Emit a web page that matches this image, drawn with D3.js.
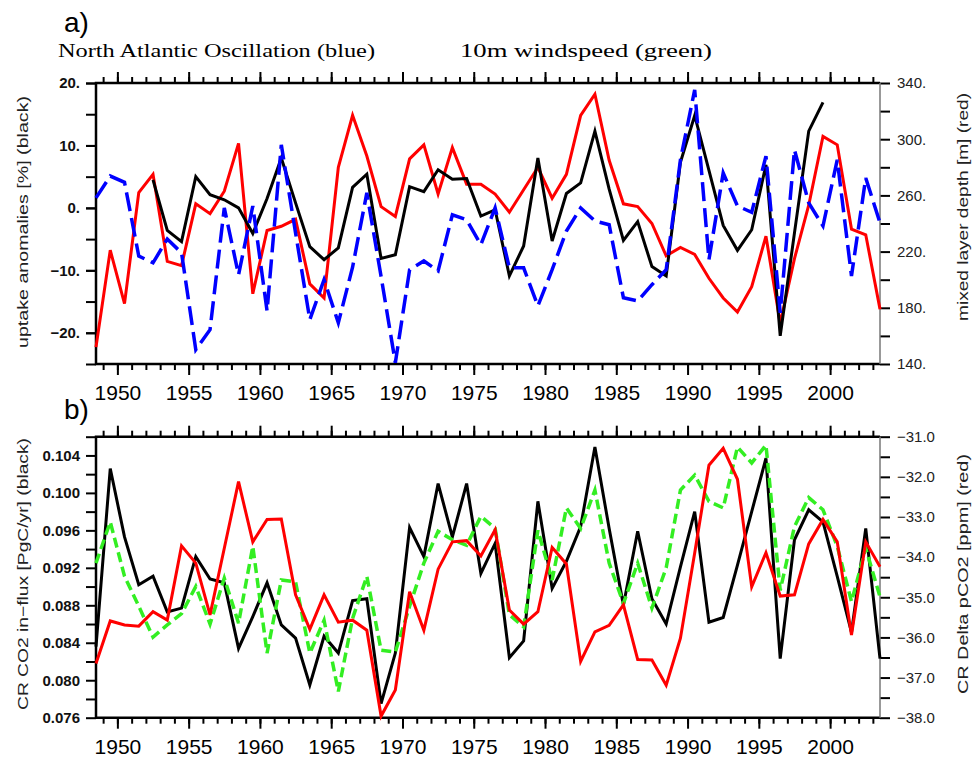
<!DOCTYPE html>
<html>
<head>
<meta charset="utf-8">
<script src="https://cdn.jsdelivr.net/npm/d3@7"></script>
<style>
body { margin: 0; background: #fff; }
svg text { font-family: "Liberation Sans", Arial, sans-serif; }
.tick line { stroke: #000; stroke-width: 2; }
</style>
</head>
<body>
<svg id="chart" width="976" height="758"></svg>
<script>
//---------------- data ----------------------
var years = d3.range(1948.5, 2004, 1);   // 56 mid-year positions

// panel a
var uptake = [null, null, null, null, 4.5, -3.6, -5.4, 5.0, 2.1, 1.3,
	0.0, -4.1, 1.5, 8.0, 0.8, -6.2, -8.3, -6.4, 3.3, 5.4,
	-8.1, -7.5, 3.4, 2.6, 6.1, 4.6, 4.7, -1.3, -0.3, -10.9,
	-6.1, 8.0, -5.3, 2.3, 4.0, 12.3, 3.0, -5.2, -2.2, -9.4,
	-10.9, 7.3, 14.8, 6.0, -2.8, -6.8, -3.5, 6.9, -20.5, -4.0,
	12.3, 16.9, null, null, null, null];
var mld = [152, 221, 183, 262, 275, 213, 210, 254, 247, 263,
	297, 190, 235, 238, 243, 197, 187, 280, 317, 288,
	252, 245, 286, 296, 261, 294, 268, 268, 261, 248,
	264, 280, 258, 275, 317, 332, 285, 254, 252, 240,
	217, 223, 218, 201, 187, 177, 195, 231, 169, 215,
	253, 302, 296, 236, 232, 179];
var nao = [1.6, 5.1, 4.1, -7.7, -8.8, -5.0, -7.2, -22.7, -19.5, 0.0,
	-10.7, 0.3, -16.5, 10.1, -4.0, -17.9, -11.5, -18.4, -9.5, 2.4,
	-11.0, -24.8, -9.9, -8.5, -10.1, -1.1, -1.9, -5.9, 0.0, -9.6,
	-9.6, -15.7, -9.9, -3.7, 0.0, -2.1, -2.7, -14.4, -14.9, -12.3,
	-9.9, 7.7, 18.9, -8.3, 5.6, 0.3, -0.7, 8.3, -16.8, 9.3,
	0.8, -2.9, 7.7, -10.9, 4.8, -2.4];

// panel b
var influx = [0.0836, 0.1026, 0.0953, 0.0902, 0.0911, 0.0873, 0.0877, 0.0932, 0.0908, 0.0904,
	0.0834, 0.0868, 0.0904, 0.0859, 0.0845, 0.0795, 0.0847, 0.0829, 0.0885, 0.0887,
	0.0775, 0.0829, 0.0963, 0.0932, 0.1010, 0.0953, 0.1010, 0.0914, 0.0946, 0.0824,
	0.0842, 0.0991, 0.0898, 0.0927, 0.0964, 0.1049, 0.0962, 0.0880, 0.0959, 0.0887,
	0.0860, 0.0921, 0.0980, 0.0862, 0.0867, 0.0923, 0.0980, 0.1037, 0.0823, 0.0950,
	0.0982, 0.0969, 0.0911, 0.0851, 0.0962, 0.0823];
var dpco2 = [-36.65, -35.59, -35.69, -35.72, -35.36, -35.57, -33.72, -34.15, -35.44, -33.78,
	-32.12, -33.62, -33.06, -33.05, -34.94, -35.80, -34.94, -35.62, -35.57, -35.82,
	-37.96, -37.31, -34.86, -35.82, -34.30, -33.62, -33.59, -33.97, -33.32, -35.32,
	-35.67, -35.36, -33.76, -34.17, -36.60, -35.86, -35.70, -35.19, -36.55, -36.56,
	-37.19, -36.02, -33.90, -31.71, -31.29, -32.06, -34.74, -33.89, -34.97, -34.94,
	-33.67, -33.06, -33.62, -35.94, -33.62, -34.24];
var wind = [0.0925, 0.0969, 0.0911, 0.0879, 0.0846, 0.0859, 0.0871, 0.0900, 0.0860, 0.0909,
	0.0861, 0.0943, 0.0829, 0.0907, 0.0905, 0.0829, 0.0864, 0.0788, 0.0866, 0.0911,
	0.0832, 0.0830, 0.0879, 0.0925, 0.0959, 0.0950, 0.0944, 0.0975, 0.0962, 0.0870,
	0.0857, 0.0960, 0.0907, 0.0984, 0.0962, 0.1003, 0.0925, 0.0882, 0.0925, 0.0877,
	0.0920, 0.1003, 0.1019, 0.0991, 0.0984, 0.1049, 0.1032, 0.1051, 0.0896, 0.0964,
	0.0995, 0.0982, 0.0943, 0.0884, 0.0941, 0.0889];

var yearLabels = d3.range(1950, 2001, 5);
var yearMinor = d3.range(1949, 2004, 1);

var aLeftTicks = [-20, -10, 0, 10, 20];
var aLeftMinor = [-25, -20, -15, -10, -5, 0, 5, 10, 15, 20];
var aRightTicks = [140, 180, 220, 260, 300, 340];
var aRightMinor = [160, 200, 240, 280, 320];
var bLeftTicks = [0.076, 0.080, 0.084, 0.088, 0.092, 0.096, 0.100, 0.104];
var bLeftMinor = [0.078, 0.082, 0.086, 0.090, 0.094, 0.098, 0.102, 0.106];
var bRightTicks = [-38, -37, -36, -35, -34, -33, -32, -31];
var bRightMinor = [-37.5, -36.5, -35.5, -34.5, -33.5, -32.5, -31.5];

//---------------- layout ----------------------
var left = 96, right = 880;
var aTop = 83, aBot = 364;
var bTop = 436.7, bBot = 717.7;

var svg = d3.select("#chart");

var x = d3.scaleLinear().domain([1948.5, 2003.5]).range([left, right]);

var yA = d3.scaleLinear().domain([-25, 20]).range([aBot, aTop]);
var yAr = d3.scaleLinear().domain([140, 340]).range([aBot, aTop]);
var yB = d3.scaleLinear().domain([0.076, 0.106]).range([bBot, bTop]);
var yBr = d3.scaleLinear().domain([-38, -31]).range([bBot, bTop]);

function minus(s) { return s.replace("-", "\u2212"); }

//---------------- axes ----------------------
function drawPanel(top, bot, yl, yr, lT, lM, lFmt, rT, rM, rFmt) {
	// x ticks bottom (labelled) and top
	svg.append("g")
		.attr("transform", "translate(0," + bot + ")")
		.call(d3.axisBottom(x).tickValues(yearLabels).tickSize(11).tickFormat(d3.format("d")))
		.call(function(g) {
			g.select(".domain").remove();
			g.selectAll("text").attr("dy", null).attr("y", 36)
				.style("font-size", "21px").attr("fill", "#000");
		});
	svg.append("g")
		.attr("transform", "translate(0," + bot + ")")
		.call(d3.axisBottom(x).tickValues(yearMinor).tickSize(6).tickFormat(""))
		.call(function(g) { g.select(".domain").remove(); });
	svg.append("g")
		.attr("transform", "translate(0," + top + ")")
		.call(d3.axisTop(x).tickValues(yearLabels).tickSize(11).tickFormat(""))
		.call(function(g) { g.select(".domain").remove(); });
	svg.append("g")
		.attr("transform", "translate(0," + top + ")")
		.call(d3.axisTop(x).tickValues(yearMinor).tickSize(6).tickFormat(""))
		.call(function(g) { g.select(".domain").remove(); });

	// left axis
	svg.append("g")
		.attr("transform", "translate(" + left + ",0)")
		.call(d3.axisLeft(yl).tickValues(lM).tickSize(10).tickFormat(""))
		.call(function(g) { g.select(".domain").remove(); });
	svg.append("g")
		.attr("transform", "translate(" + left + ",0)")
		.call(d3.axisLeft(yl).tickValues(lT).tickSize(10).tickPadding(6).tickFormat(lFmt))
		.call(function(g) {
			g.select(".domain").remove();
			g.selectAll("text").style("font-size", "15px").style("font-weight", "bold").attr("fill", "#111");
		});

	// right axis
	svg.append("g")
		.attr("transform", "translate(" + right + ",0)")
		.call(d3.axisRight(yr).tickValues(rM).tickSize(10).tickFormat(""))
		.call(function(g) { g.select(".domain").remove(); });
	svg.append("g")
		.attr("transform", "translate(" + right + ",0)")
		.call(d3.axisRight(yr).tickValues(rT).tickSize(10).tickPadding(7).tickFormat(rFmt))
		.call(function(g) {
			g.select(".domain").remove();
			g.selectAll("text").style("font-size", "15px").attr("fill", "#222");
		});

	// frame
	svg.append("path")
		.attr("d", "M" + right + "," + top + "H" + left + "V" + bot + "H" + right)
		.attr("fill", "none").attr("stroke", "#000").attr("stroke-width", 2.5);
	svg.append("line")
		.attr("x1", right).attr("x2", right).attr("y1", top).attr("y2", bot)
		.attr("stroke", "#777").attr("stroke-width", 1.5);
}

drawPanel(aTop, aBot, yA, yAr, aLeftTicks, aLeftMinor,
	function(d) { return minus(d + "."); },
	aRightTicks, aRightMinor, function(d) { return d + "."; });

drawPanel(bTop, bBot, yB, yBr, bLeftTicks, bLeftMinor,
	function(d) { return d3.format(".3f")(d); },
	bRightTicks, bRightMinor, function(d) { return minus(d3.format(".1f")(d)); });

//---------------- lines ----------------------
function addLine(values, yScale, color, width, dash) {
	var line = d3.line()
		.defined(function(d) { return d != null; })
		.x(function(d, i) { return x(years[i]); })
		.y(function(d) { return yScale(d); });
	svg.append("path")
		.datum(values)
		.attr("d", line)
		.attr("fill", "none")
		.attr("stroke", color)
		.attr("stroke-width", width)
		.attr("stroke-linejoin", "miter")
		.attr("stroke-dasharray", dash || null);
}

addLine(mld, yAr, "#ff0000", 3);
addLine(uptake, yA, "#000000", 3);
addLine(nao, yA, "#0000ff", 3.5, "19,7");

addLine(influx, yB, "#000000", 3);
addLine(wind, yB, "#33ee22", 3.5, "10,5");
addLine(dpco2, yBr, "#ff0000", 3);

//---------------- titles ----------------------
svg.append("text").attr("x", 64).attr("y", 32).text("a)")
	.style("font-size", "28px").style("font-weight", "300");
svg.append("text").attr("x", 64).attr("y", 419).text("b)")
	.style("font-size", "28px").style("font-weight", "300");

svg.append("text").attr("x", 58).attr("y", 57)
	.attr("textLength", 317).attr("lengthAdjust", "spacingAndGlyphs")
	.style("font-family", "'Liberation Serif', serif").style("font-size", "19px")
	.text("North Atlantic Oscillation (blue)");
svg.append("text").attr("x", 460).attr("y", 57)
	.attr("textLength", 252).attr("lengthAdjust", "spacingAndGlyphs")
	.style("font-family", "'Liberation Serif', serif").style("font-size", "19px")
	.text("10m windspeed (green)");

function yTitle(tx, ty, len, label) {
	svg.append("text")
		.attr("transform", "translate(" + tx + "," + ty + ") rotate(-90)")
		.attr("text-anchor", "middle")
		.attr("textLength", len).attr("lengthAdjust", "spacingAndGlyphs")
		.style("font-size", "15px").attr("fill", "#222")
		.text(label);
}
yTitle(28, 222, 252, "uptake anomalies [%] (black)");
yTitle(968, 207, 228, "mixed layer depth [m] (red)");
yTitle(28, 574, 272, "CR CO2 in\u2212flux [PgC/yr] (black)");
yTitle(968, 574, 240, "CR Delta pCO2 [ppm] (red)");
</script>
</body>
</html>
